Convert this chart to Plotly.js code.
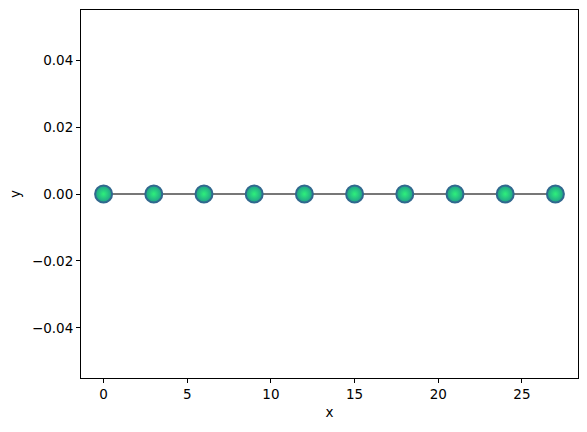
<!DOCTYPE html>
<html><head><meta charset="utf-8">
<script src="https://cdn.plot.ly/plotly-3.0.1.min.js"></script>
<style>body{margin:0}#chart{width:587px;height:432px}</style>
</head><body><div id="chart"></div>
<script>
const xValues = [0, 3, 6, 9, 12, 15, 18, 21, 24, 27];
const yValues = [0, 0, 0, 0, 0, 0, 0, 0, 0, 0];
const xTicks = [0, 5, 10, 15, 20, 25];
const yTicks = [-0.04, -0.02, 0, 0.02, 0.04];
const yTickText = ['−0.04', '−0.02', '0.00', '0.02', '0.04'];

const trace = {
  x: xValues, y: yValues, type: 'scatter', mode: 'lines+markers',
  line: {color: '#777777', width: 2},
  marker: {size: 17, color: '#1f9e89',
    gradient: {type: 'radial', color: '#2ef07a'},
    line: {color: '#31688e', width: 2}},
  hoverinfo: 'none'
};
const fnt = {family: 'DejaVu Sans', size: 13.5, color: '#000'};
const axisCommon = {showgrid: false, zeroline: false, showline: true, mirror: true,
  linecolor: '#000', linewidth: 1, ticks: 'outside', ticklen: 4, tickcolor: '#000',
  tickfont: fnt};
const layout = {
  width: 587, height: 432, margin: {l: 81, r: 9, t: 10, b: 54},
  paper_bgcolor: '#fff', plot_bgcolor: '#fff', showlegend: false,
  xaxis: Object.assign({}, axisCommon, {range: [-1.35, 28.35], tickvals: xTicks,
    title: {text: 'x', font: fnt, standoff: 6}}),
  yaxis: Object.assign({}, axisCommon, {range: [-0.055, 0.055], tickvals: yTicks, ticktext: yTickText,
    title: {text: 'y', font: fnt, standoff: 8}})
};
Plotly.newPlot('chart', [trace], layout, {staticPlot: true});
</script></body></html>
